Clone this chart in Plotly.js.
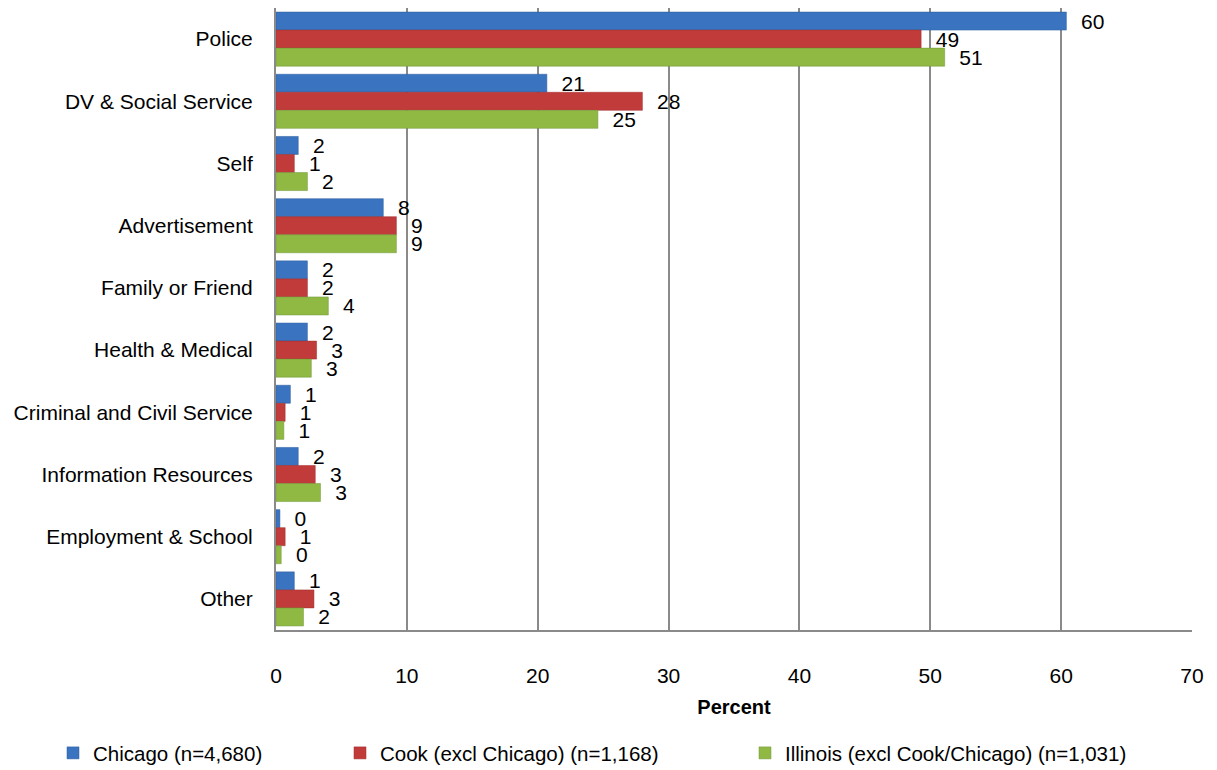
<!DOCTYPE html>
<html>
<head>
<meta charset="utf-8">
<script src="https://cdn.plot.ly/plotly-3.0.1.min.js"></script>
<style>html,body{margin:0;padding:0;background:#fff;}#chart{width:1217px;height:770px;}</style>
</head>
<body>
<div id="chart"></div>
<script>
const categories = ["Police", "DV & Social Service", "Self", "Advertisement", "Family or Friend",
  "Health & Medical", "Criminal and Civil Service", "Information Resources", "Employment & School", "Other"];
const chicago = [60.4, 20.7, 1.7, 8.2, 2.4, 2.4, 1.1, 1.7, 0.3, 1.4];
const cook = [49.3, 28.0, 1.4, 9.2, 2.4, 3.1, 0.7, 3.0, 0.7, 2.9];
const illinois = [51.1, 24.6, 2.4, 9.2, 4.0, 2.7, 0.6, 3.4, 0.4, 2.1];
const seriesNames = ["Chicago (n=4,680)", "Cook (excl Chicago) (n=1,168)", "Illinois (excl Cook/Chicago) (n=1,031)"];
const colors = ["#3a73c0", "#c23b3b", "#8fb943"];
const lineColors = ["#2c5c9c", "#9c2c2c", "#71963a"];
const legendIds = ["legend", "legend2", "legend3"];
const legendX = [53, 340, 745];
const FONT = "Liberation Sans, Arial, sans-serif";

const data = [chicago, cook, illinois].map((vals, i) => ({
  type: "bar",
  orientation: "h",
  name: seriesNames[i],
  legend: legendIds[i],
  y: categories,
  x: vals,
  text: vals.map(v => String(Math.round(v))),
  texttemplate: "\u00a0\u00a0%{text}",
  textposition: "outside",
  constraintext: "none",
  cliponaxis: false,
  outsidetextfont: {family: FONT, size: 21, color: "#000"},
  marker: {color: colors[i], line: {color: lineColors[i], width: 0.5}},
  hoverinfo: "none"
}));

const legendBase = {
  orientation: "h", xref: "container", yref: "container",
  y: 0.022, yanchor: "middle", xanchor: "left",
  font: {family: FONT, size: 20.5}, itemwidth: 20, bgcolor: "rgba(0,0,0,0)"
};

const layout = {
  width: 1217, height: 770,
  margin: {l: 276, r: 25, t: 8, b: 140},
  paper_bgcolor: "#fff", plot_bgcolor: "#fff",
  barmode: "group", bargap: 0.13, bargroupgap: 0,
  font: {family: FONT, size: 21, color: "#000"},
  xaxis: {
    range: [0, 70], dtick: 10, tick0: 0,
    showgrid: true, gridcolor: "#8a8a8a", gridwidth: 2,
    zeroline: false, showline: true, linecolor: "#8a8a8a", linewidth: 2,
    ticks: "", tickfont: {family: FONT, size: 21},
    ticklabelstandoff: 26,
    title: {text: "<b>Percent</b>", font: {family: FONT, size: 20}, standoff: 14}
  },
  yaxis: {
    autorange: "reversed", showline: true, linecolor: "#8a8a8a", linewidth: 2,
    showgrid: false, zeroline: false, ticks: "", ticklabelstandoff: 17,
    tickfont: {family: FONT, size: 21}
  },
  legend: Object.assign({}, legendBase, {x: legendX[0] / 1217}),
  legend2: Object.assign({}, legendBase, {x: legendX[1] / 1217}),
  legend3: Object.assign({}, legendBase, {x: legendX[2] / 1217}),
  showlegend: true
};

Plotly.newPlot("chart", data, layout, {displayModeBar: false, staticPlot: true});
</script>
</body>
</html>
